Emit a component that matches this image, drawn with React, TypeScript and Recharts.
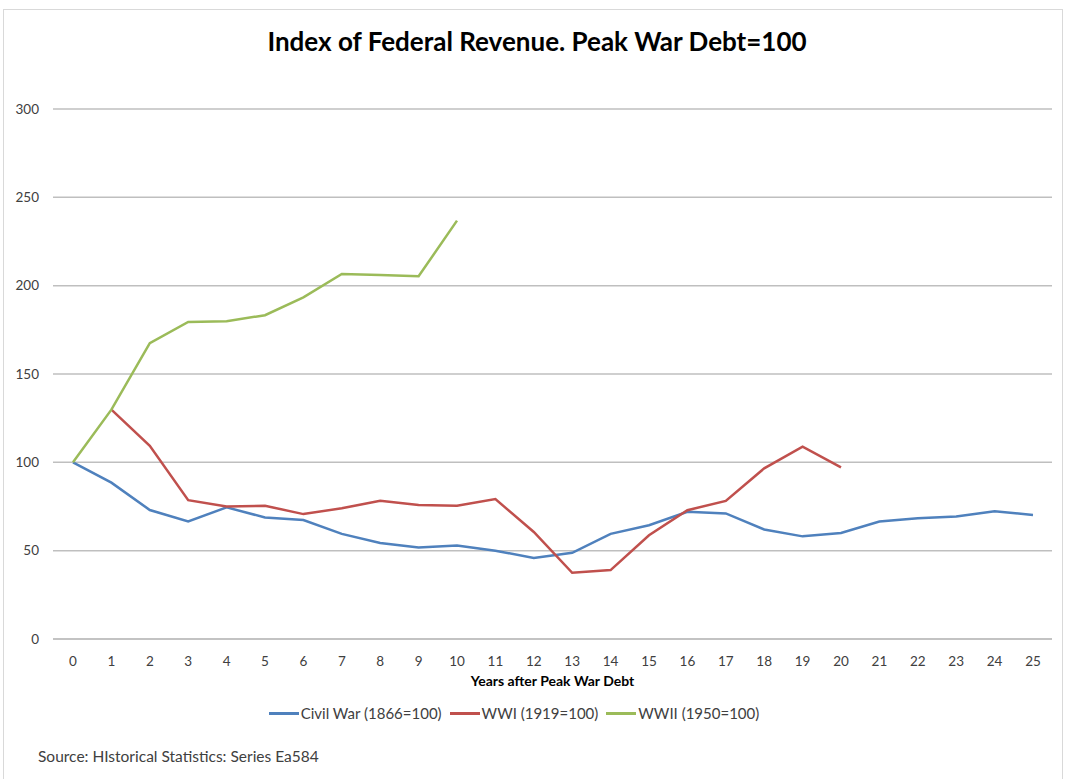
import { LineChart, Line, XAxis, YAxis, CartesianGrid } from "recharts";

const years = [0, 1, 2, 3, 4, 5, 6, 7, 8, 9, 10, 11, 12, 13, 14, 15, 16, 17, 18, 19, 20, 21, 22, 23, 24, 25];

const civilWar = [100, 88.5, 73, 66.5, 74.5, 68.8, 67.3, 59.5, 54.3, 51.8, 52.9, 50, 45.8, 48.8, 59.5, 64.4, 72, 71.1, 62, 58.1, 60, 66.5, 68.3, 69.3, 72.3, 70.2];
const wwi = [null, 129.8, 109.4, 78.6, 75, 75.4, 70.7, 74, 78.2, 75.9, 75.4, 79.2, 60.6, 37.5, 39, 58.7, 72.9, 78.2, 96.6, 108.9, 97.2];
const wwii = [100, 129.8, 167.5, 179.5, 179.9, 183.3, 193.4, 206.6, 206, 205.3, 236.8];

const yTicks = [0, 50, 100, 150, 200, 250, 300];

const series = [
  { key: "civil", name: "Civil War (1866=100)", color: "#4F81BD" },
  { key: "wwi", name: "WWI (1919=100)", color: "#C0504D" },
  { key: "wwii", name: "WWII (1950=100)", color: "#9BBB59" },
];

const data = years.map((y, i) => ({
  year: y,
  civil: civilWar[i] ?? null,
  wwi: wwi[i] ?? null,
  wwii: wwii[i] ?? null,
}));

const FONT = "Lato, 'Open Sans', sans-serif";

export default function App() {
  return (
    <div
      style={{
        position: "absolute",
        left: 0,
        top: 0,
        width: 1066,
        height: 779,
        background: "#fff",
        fontFamily: FONT,
        overflow: "hidden",
      }}
    >
      {/* thin outer frame of the chart area */}
      <div
        style={{
          position: "absolute",
          left: 3,
          top: 9,
          width: 1058,
          height: 790,
          border: "1px solid #D9D9D9",
        }}
      />

      <div
        style={{
          position: "absolute",
          top: 25,
          left: 0,
          width: 1074,
          textAlign: "center",
          fontSize: 26,
          fontWeight: 700,
          color: "#000",
        }}
      >
        Index of Federal Revenue. Peak War Debt=100
      </div>

      <LineChart
        width={1066}
        height={779}
        data={data}
        margin={{ top: 109, right: 14, bottom: 110, left: 0 }}
        style={{ position: "absolute", left: 0, top: 0 }}
      >
        <CartesianGrid vertical={false} stroke="#BFBFBF" strokeWidth={1.5} />
        <XAxis
          dataKey="year"
          type="category"
          padding={{ left: 20, right: 19 }}
          tickLine={false}
          axisLine={{ stroke: "#BFBFBF", strokeWidth: 1.5 }}
          tick={{ fill: "#404040", fontSize: 13.5, fontFamily: FONT }}
          tickMargin={11}
          interval={0}
          height={30}
          label={{
            value: "Years after Peak War Debt",
            position: "bottom",
            offset: 7,
            style: { fill: "#000", fontSize: 14, fontWeight: 700, fontFamily: FONT },
          }}
        />
        <YAxis
          domain={[0, 300]}
          ticks={yTicks}
          width={53}
          tickLine={false}
          axisLine={false}
          tickMargin={8}
          tick={{ fill: "#404040", fontSize: 13.5, fontFamily: FONT }}
        />
        {series.map((s) => (
          <Line
            key={s.key}
            dataKey={s.key}
            name={s.name}
            stroke={s.color}
            strokeWidth={2.5}
            dot={false}
            isAnimationActive={false}
            connectNulls={false}
          />
        ))}
      </LineChart>

      {/* legend */}
      <div
        style={{
          position: "absolute",
          top: 704,
          left: 0,
          width: 1066,
          display: "flex",
          justifyContent: "center",
          paddingRight: 38,
          boxSizing: "border-box",
          gap: 8,
          fontSize: 15,
          color: "#404040",
        }}
      >
        {series.map((s) => (
          <div key={s.key} style={{ display: "flex", alignItems: "center" }}>
            <span style={{ display: "inline-block", width: 30, height: 3, background: s.color, marginRight: 2 }} />
            <span>{s.name}</span>
          </div>
        ))}
      </div>

      <div
        style={{
          position: "absolute",
          top: 747,
          left: 38,
          fontSize: 15.5,
          color: "#404040",
        }}
      >
        Source: HIstorical Statistics: Series Ea584
      </div>
    </div>
  );
}
